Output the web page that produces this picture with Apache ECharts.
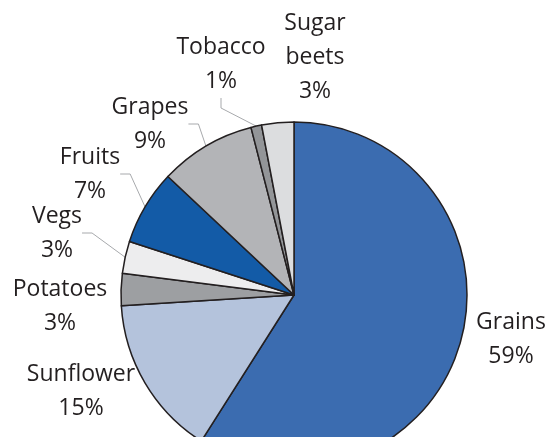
<!DOCTYPE html>
<html>
<head>
    <meta charset="UTF-8">
    <title>crops pie</title>
    <style>
        html, body {
            margin: 0;
            padding: 0;
            background: #ffffff;
        }
        #chart {
            width: 548px;
            height: 437px;
        }
    </style>
    <script src="https://cdn.jsdelivr.net/npm/echarts@6/dist/echarts.min.js"></script>
</head>
<body>
<div id="chart"></div>
<script>
    // data, clockwise from 12 o'clock
    const crops = ['Grains', 'Sunflower', 'Potatoes', 'Vegs', 'Fruits', 'Grapes', 'Tobacco', 'Sugar beets'];
    const shares = [59, 15, 3, 3, 7, 9, 1, 3];

    const sliceColors = ['#3b6cb0', '#b4c3dc', '#9d9fa2', '#ededee', '#135ba7', '#b3b4b7', '#939598', '#dcdddf'];
    const withLine = [false, false, false, true, true, true, true, false];
    // where each label block is centred (px)
    const labelX = [511, 81, 60, 57, 90, 150, 221, 315];
    const labelY = [339, 391, 306, 233, 174, 124, 64, 57];

    const chart = echarts.init(document.getElementById('chart'), null, {renderer: 'canvas'});

    const pieData = crops.map((name, i) => ({
        name: name,
        value: shares[i],
        itemStyle: {color: sliceColors[i]},
        labelLine: {show: withLine[i]}
    }));

    chart.setOption({
        animation: false,
        series: [{
            type: 'pie',
            center: [294, 295],
            radius: [0, 173],
            startAngle: 90,
            clockwise: true,
            data: pieData,
            itemStyle: {
                borderColor: '#231f20',
                borderWidth: 1.5
            },
            label: {
                show: true,
                position: 'outside',
                formatter: p => p.name.replace(' ', '\n') + '\n' + p.value + '%',
                fontFamily: 'Open Sans',
                fontSize: 23,
                lineHeight: 34,
                color: '#231f20',
                align: 'center',
                overflow: 'none'
            },
            labelLine: {
                length: 10,
                length2: 10,
                lineStyle: {color: '#a7a9ac', width: 1}
            },
            labelLayout: function (params) {
                const i = params.dataIndex;
                return {
                    x: labelX[i],
                    y: labelY[i],
                    align: 'center',
                    verticalAlign: 'middle'
                };
            }
        }]
    });
</script>
</body>
</html>
